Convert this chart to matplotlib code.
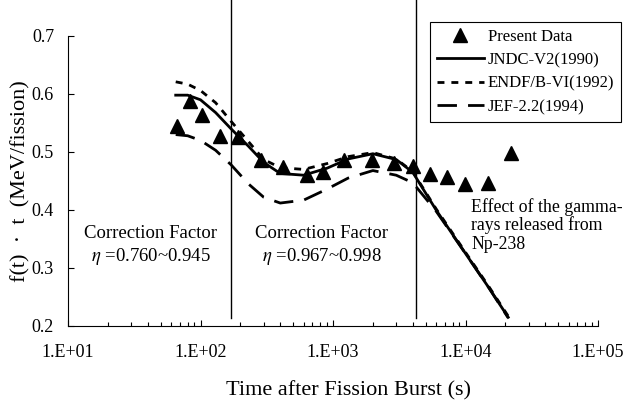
import matplotlib
matplotlib.use('Agg')
import matplotlib.pyplot as plt

plt.rcParams['font.family'] = ['Liberation Serif', 'DejaVu Serif']
plt.rcParams['mathtext.fontset'] = 'stix'

# measured points
data_t = [66, 83, 103, 140, 192, 285, 423, 635, 845, 1206, 1963, 2884, 4000,
          5400, 7270, 9950, 14860, 22000]
data_f = [0.545, 0.588, 0.564, 0.528, 0.526, 0.487, 0.475, 0.460, 0.466, 0.487,
          0.487, 0.481, 0.476, 0.462, 0.457, 0.445, 0.447, 0.498]

# evaluated library curves
calc_t = [65, 80, 100, 130, 170, 230, 300, 400, 600, 900, 1300, 2000, 3000,
          4000, 6000, 10000, 15000, 21000]
jndc = [0.598, 0.598, 0.590, 0.568, 0.540, 0.510, 0.482, 0.463, 0.460, 0.472,
        0.488, 0.497, 0.487, 0.465, 0.400, 0.325, 0.266, 0.215]
endf = [0.621, 0.617, 0.606, 0.585, 0.553, 0.518, 0.487, 0.473, 0.470, 0.480,
        0.492, 0.499, 0.488, 0.466, 0.402, 0.327, 0.268, 0.217]
jef = [0.530, 0.528, 0.520, 0.503, 0.478, 0.445, 0.422, 0.412, 0.417, 0.436,
       0.455, 0.468, 0.460, 0.447, 0.398, 0.325, 0.266, 0.214]

boundaries = [170, 4200]
x_ticks = [1e1, 1e2, 1e3, 1e4, 1e5]
x_labels = ['1.E+01', '1.E+02', '1.E+03', '1.E+04', '1.E+05']
y_ticks = [0.2, 0.3, 0.4, 0.5, 0.6, 0.7]

fig = plt.figure(figsize=(6.29, 4.03), dpi=100)
ax = fig.add_axes([68 / 629, 77 / 403, 530 / 629, 290 / 403])

ax.plot(data_t, data_f, '^', color='black', markersize=10, label='Present Data', zorder=5)
ax.plot(calc_t, jndc, '-', color='black', lw=2.0, label='JNDC-V2(1990)')
ax.plot(calc_t, endf, color='black', lw=2.0, dashes=(2.5, 2.5), label='ENDF/B-VI(1992)')
ax.plot(calc_t, jef, color='black', lw=2.0, dashes=(7, 4), label='JEF-2.2(1994)')

for b in boundaries:
    ax.plot([b, b], [0.214, 0.765], color='black', lw=1.0, clip_on=False)

ax.set_xscale('log')
ax.set_xlim(1e1, 1e5)
ax.set_ylim(0.2, 0.7)
ax.set_xticks(x_ticks)
ax.set_xticklabels(x_labels)
ax.set_yticks(y_ticks)
ax.set_yticklabels([f'{v:.1f}' for v in y_ticks])
ax.tick_params(axis='both', which='both', direction='in', length=4, width=0.8,
               labelsize=13)
ax.tick_params(axis='x', pad=13)
ax.tick_params(axis='y', pad=10)
ax.tick_params(axis='x', which='minor', length=3)
ax.spines['top'].set_visible(False)
ax.spines['right'].set_visible(False)

ax.set_xlabel('Time after Fission Burst (s)', fontsize=16, labelpad=14)
ax.xaxis.set_label_coords(0.53, -0.19)
ax.set_ylabel('f(t)  ·  t  (MeV/fission)', fontsize=16, labelpad=1)

ax.text(42, 0.360, 'Correction Factor', ha='center', va='center', fontsize=13.5)
ax.text(42, 0.319, r'$\eta$ =0.760~0.945', ha='center', va='center', fontsize=13.5)
ax.text(826, 0.360, 'Correction Factor', ha='center', va='center', fontsize=13.5)
ax.text(826, 0.319, r'$\eta$ =0.967~0.998', ha='center', va='center', fontsize=13.5)
ax.text(11000, 0.374, 'Effect of the gamma-\nrays released from\nNp-238', ha='left',
        va='center', fontsize=12.8, linespacing=1.08)

leg = ax.legend(loc='upper right', bbox_to_anchor=(621 / 629, 1 - 22 / 403),
                bbox_transform=fig.transFigure, borderaxespad=0, fontsize=12,
                handlelength=2.8, labelspacing=0.45, fancybox=False, framealpha=1,
                edgecolor='black', borderpad=0.4, handletextpad=0.25)
leg.get_frame().set_linewidth(0.8)

fig.savefig('out.png', dpi=100)
